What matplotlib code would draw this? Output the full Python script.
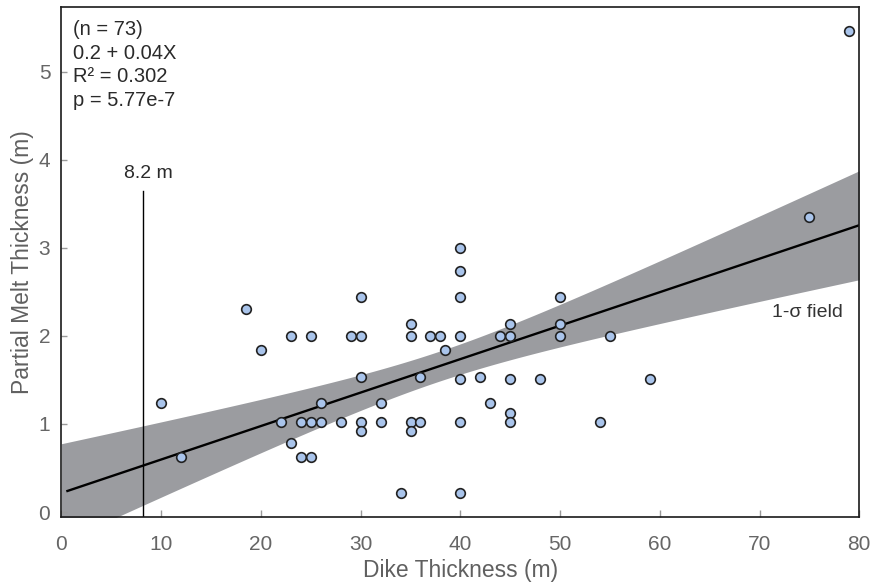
import numpy as np
import matplotlib
matplotlib.use("Agg")
import matplotlib.pyplot as plt

# Dike thickness (m) and partial-melt thickness (m) for each measured contact
dike_thickness = [
    10, 12, 18.5, 20, 22, 23, 23, 24, 24, 25, 25, 25, 26, 26, 28, 29,
    30, 30, 30, 30, 30, 32, 32, 34, 35, 35, 35, 35, 36, 36, 37, 38, 38.5,
    40, 40, 40, 40, 40, 40, 40, 42, 43, 44, 45, 45, 45, 45, 45, 48,
    50, 50, 50, 54, 55, 59, 75, 79,
]
melt_thickness = [
    1.24, 0.63, 2.30, 1.84, 1.02, 2.0, 0.78, 1.02, 0.63, 2.0, 1.02, 0.63, 1.24, 1.02, 1.02, 2.0,
    2.44, 2.0, 1.53, 1.02, 0.92, 1.24, 1.02, 0.22, 2.13, 2.0, 1.02, 0.92, 1.53, 1.02, 2.0, 2.0, 1.84,
    3.0, 2.74, 2.44, 2.0, 1.51, 1.02, 0.22, 1.53, 1.24, 2.0, 2.13, 2.0, 1.51, 1.12, 1.02, 1.51,
    2.44, 2.13, 2.0, 1.02, 2.0, 1.51, 3.35, 5.46,
]

# Least-squares fit and its 1-sigma confidence band
fit_intercept = 0.216
fit_slope = 0.038
band_x_mean = 37.8
band_halfwidth_at_mean = 0.17
band_slope_sigma = 0.0141

stats_lines = ["(n = 73)", "0.2 + 0.04X", "R\u00b2 = 0.302", "p = 5.77e-7"]
min_dike = 8.2
min_dike_top = 3.65

x_ticks = [0, 10, 20, 30, 40, 50, 60, 70, 80]
y_ticks = [0, 1, 2, 3, 4, 5]

plt.rcParams["font.family"] = ["Liberation Sans", "DejaVu Sans"]

fig = plt.figure(figsize=(8.73, 5.85), dpi=100)
ax = fig.add_axes([0.0704, 0.1168, 0.9139, 0.8707])

# confidence band around the regression line
xf = np.linspace(0, 80, 200)
yf = fit_intercept + fit_slope * xf
hw = np.sqrt(band_halfwidth_at_mean ** 2 + (band_slope_sigma * (xf - band_x_mean)) ** 2)
ax.fill_between(xf, yf - hw, yf + hw, color="#9b9ca0", lw=0, zorder=1)

xl = np.linspace(0.6, 80, 200)
ax.plot(xl, fit_intercept + fit_slope * xl, color="black", lw=1.7, zorder=2)

# minimum dike thickness marker
ax.plot([min_dike, min_dike], [-0.1, min_dike_top], color="black", lw=1.0, zorder=2)
ax.text(min_dike + 0.55, min_dike_top + 0.19, f"{min_dike} m", ha="center", va="center",
        fontsize=14, color="#2a2a2a")

ax.scatter(dike_thickness, melt_thickness, s=48, facecolor="#a9c4eb",
           edgecolor="#222222", linewidth=1.2, zorder=3)

ax.text(71.2, 2.27, "1-\u03c3 field", ha="left", va="center", fontsize=14, color="#333333")

for i, line in enumerate(stats_lines):
    ax.text(0.0148, 0.9555 - i * 0.0461, line, transform=ax.transAxes,
            ha="left", va="center", fontsize=14.5, color="#2a2a2a")

ax.set_xlim(0, 80)
ax.set_ylim(-0.053, 5.73)
ax.set_xticks(x_ticks)
ax.set_yticks(y_ticks)
ax.tick_params(axis="both", direction="in", length=5, width=1, color="#9a9a9a",
               labelsize=15, labelcolor="#666666")
ax.tick_params(axis="x", pad=13)
ax.tick_params(axis="y", length=4, pad=8)

for sp in ax.spines.values():
    sp.set_linewidth(1.2)
    sp.set_color("#1a1a1a")

ax.set_xlabel("Dike Thickness (m)", fontsize=16.5, color="#606060", labelpad=4)
ax.set_ylabel("Partial Melt Thickness (m)", fontsize=16.5, color="#606060", labelpad=3)

fig.savefig("out.png", dpi=100)
